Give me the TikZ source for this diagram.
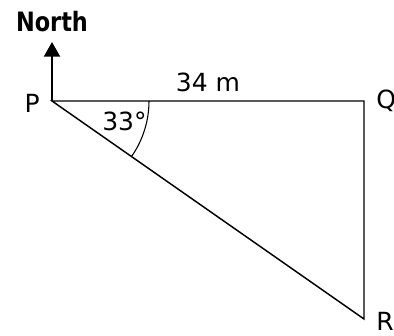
\documentclass[tikz,border=0pt]{standalone}
\usepackage{fontspec}
\setmainfont{DejaVu Sans}
\usepackage{graphicx}
\usetikzlibrary{arrows.meta,positioning,calc}

\begin{document}
\begin{tikzpicture}[
  x=0.75pt, y=0.75pt,
  side/.style={line width=1.1pt},
  lbl/.style={inner sep=0pt, font=\fontsize{18.75}{20}\selectfont},
  headlbl/.style={inner sep=0pt, font=\fontsize{20}{22}\selectfont\bfseries},
  northarr/.style={-{Triangle[width=12pt,length=11pt]}, line width=1.6pt},
  anglearc/.style={line width=0.8pt}
]
\useasboundingbox (0,0) rectangle (394,336);

\coordinate (P) at (52,235);
\coordinate (Q) at (364,235);
\coordinate (R) at (364,17);
\coordinate (tip) at (52,294);

\draw[side] (P) -- (Q) -- (R) -- cycle;
\draw[northarr] (P) -- (tip);
\draw[anglearc] ($(P)+(97,0)$) arc[start angle=0, end angle=-34.94, radius=97];

\node[headlbl, above=7.5pt of tip] (north) {\scalebox{0.84}[1]{North}};
\node[lbl, left=9pt of P, yshift=-2pt] (lblP) {P};
\node[lbl, right=9pt of Q] (lblQ) {Q};
\node[lbl, right=9pt of R, yshift=-2pt] (lblR) {R};
\node[lbl, above=7pt of $(P)!0.5!(Q)$] (len) {34 m};
\node[lbl, below right=8pt and 37.5pt of P] (ang) {33°};

\end{tikzpicture}
\end{document}
